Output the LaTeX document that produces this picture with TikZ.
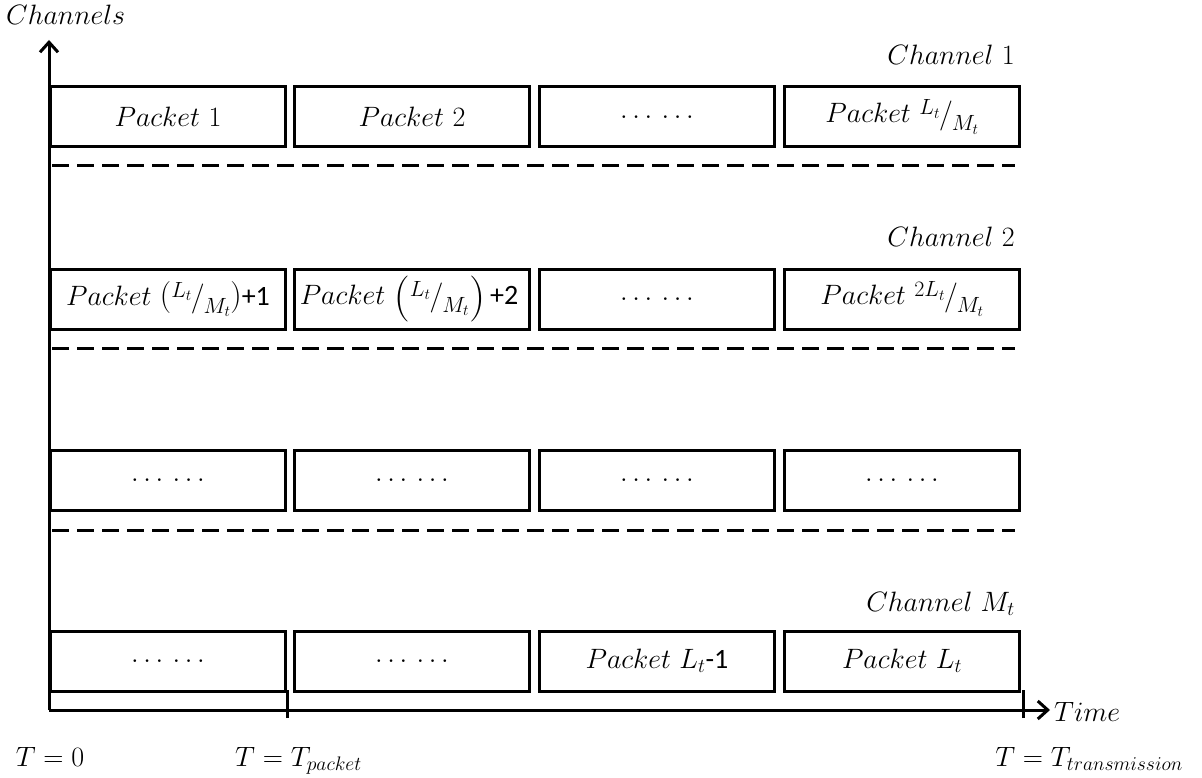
\RequirePackage{fix-cm}
\documentclass[tikz,border=0pt]{standalone}
\usepackage{fontspec}
\newfontfamily\calibri{Carlito}
\usetikzlibrary{arrows.meta}
% skewed fraction a/b with raised numerator and lowered denominator
\newcommand{\skewfrac}[2]{%
  \raisebox{8pt}{\fontsize{22}{24}\selectfont$#1$}%
  \kern-1pt\raisebox{-1pt}{\fontsize{30}{32}\selectfont$/$}%
  \kern-1pt\raisebox{-8pt}{\fontsize{22}{24}\selectfont$#2$}}
% parenthesis of a given size, lowered by a given amount
\newcommand{\sizedparen}[3]{\raisebox{#2}{\fontsize{#1}{#1}\selectfont$#3$}}
\newcommand{\dotgroup}{$\ldots\,\ldots$}
\begin{document}
\begin{tikzpicture}[x=1pt,y=-1pt,
  every node/.style={inner sep=0pt, font=\fontsize{28}{32}\selectfont},
  pbox/.style={draw, line width=3pt, minimum width=235pt, minimum height=60pt},
  axis/.style={line width=3pt, -{Straight Barb[length=10pt,width=18pt]}},
  sep/.style={line width=3pt, dash pattern=on 17pt off 8pt},
  tickmark/.style={line width=3pt}]
\useasboundingbox (0,0) rectangle (1202,778);

% packet rows
\node[pbox] (p11) at (168,117) {$Packet\ 1$};
\node[pbox] (p12) at (412,117) {$Packet\ 2$};
\node[pbox] (p13) at (657,117) {\dotgroup};
\node[pbox] (p14) at (902,117) {$Packet$\ \skewfrac{L_t}{M_t}};

\node[pbox] (p21) at (168,299) {$Packet$\ \sizedparen{32}{0pt}{(}\skewfrac{L_t}{M_t}\sizedparen{32}{0pt}{)}{\calibri+1}};
\node[pbox] (p22) at (412,299) {\kern-6pt$Packet$\ \sizedparen{46}{-6pt}{(}\skewfrac{L_t}{M_t}\sizedparen{46}{-6pt}{)}\,{\calibri+2}};
\node[pbox] (p23) at (657,299) {\dotgroup};
\node[pbox] (p24) at (902,299) {$Packet$\ \skewfrac{2L_t}{M_t}};

\node[pbox] (p31) at (168,480) {\dotgroup};
\node[pbox] (p32) at (412,480) {\dotgroup};
\node[pbox] (p33) at (657,480) {\dotgroup};
\node[pbox] (p34) at (902,480) {\dotgroup};

\node[pbox] (p41) at (168,661) {\dotgroup};
\node[pbox] (p42) at (412,661) {\dotgroup};
\node[pbox] (p43) at (657,661) {$Packet\ L_t${\calibri-1}};
\node[pbox] (p44) at (902,661) {$Packet\ L_t$};

% channel separators
\draw[sep] (52,166) -- (1015,166);
\draw[sep] (52,348) -- (1015,348);
\draw[sep] (52,530) -- (1015,530);

% channel labels
\node[anchor=base east] (c1) at (1015,65) {$Channel\ 1$};
\node[anchor=base east] (c2) at (1015,247) {$Channel\ 2$};
\node[anchor=base east] (cm) at (1015,611) {$Channel\ M_t$};

% axes
\coordinate (O) at (49,710);
\coordinate (ytip) at (49,40);
\coordinate (xtip) at (1050,710);
\draw[axis] (O) -- (ytip);
\draw[axis] (O) -- (xtip);
\node[anchor=base west] (ylab) at (6,25) {$Channels$};
\node[anchor=west] (xlab) at (1054,712) {$Time$};

% time ticks
\coordinate (t1) at (287,710);
\coordinate (t2) at (1023,710);
\draw[tickmark] ([yshift=-8pt]t1) -- ([yshift=20pt]t1);
\draw[tickmark] ([yshift=-8pt]t2) -- ([yshift=20pt]t2);

% time labels
\node[anchor=base] (T0) at (50,766) {$T = 0$};
\node[anchor=base west] (Tp) at (235,766) {$T = T_{packet}$};
\node[anchor=base east] (Tt) at (1183,766) {$T = T_{transmission}$};
\end{tikzpicture}
\end{document}
